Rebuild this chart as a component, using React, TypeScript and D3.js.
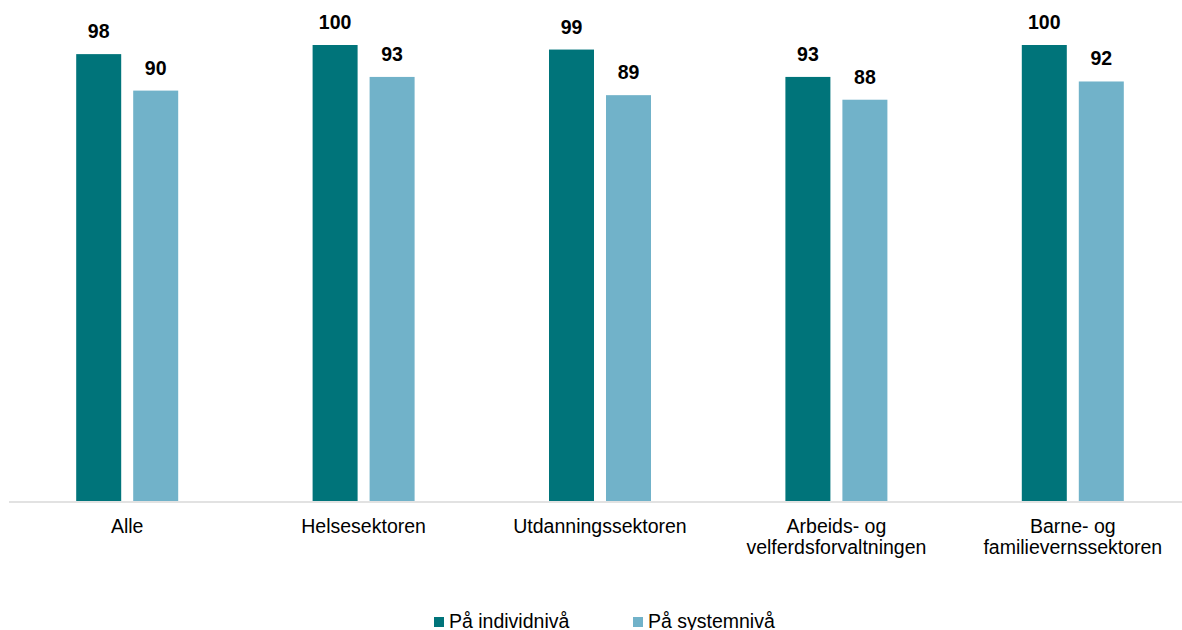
import React from "react";
import * as d3 from "d3";

const categories: string[][] = [
  ["Alle"],
  ["Helsesektoren"],
  ["Utdanningssektoren"],
  ["Arbeids- og", "velferdsforvaltningen"],
  ["Barne- og", "familievernssektoren"],
];
const individValues = [98, 100, 99, 93, 100];
const systemValues = [90, 93, 89, 88, 92];
const seriesNames = ["På individnivå", "På systemnivå"];
const colors = ["#00747A", "#71B2C9"];

const W = 1182;
const H = 630;
const FONT = "'Liberation Sans', Arial, sans-serif";

export default function App() {
  const x0 = 9;
  const step = 236.4;
  const x = d3
    .scaleBand<number>()
    .domain(categories.map((_, i) => i))
    .range([x0, x0 + step * categories.length])
    .paddingInner(0)
    .paddingOuter(0);
  const baseY = 501;
  const y = d3.scaleLinear().domain([0, 100]).range([baseY, baseY - 456]);
  const barW = 45;
  const gap = 12;
  const series = [individValues, systemValues];

  return (
    <svg
      width={W}
      height={H}
      style={{ position: "absolute", left: 0, top: 0, fontFamily: FONT }}
    >
      <rect x={0} y={0} width={W} height={H} fill="#fff" />
      {series.map((vals, s) =>
        vals.map((v, i) => {
          const cx = (x(i) as number) + x.bandwidth() / 2;
          const bx = s === 0 ? cx - gap / 2 - barW : cx + gap / 2;
          return (
            <g key={`${s}-${i}`}>
              <rect
                x={bx}
                y={y(v)}
                width={barW}
                height={baseY - y(v)}
                fill={colors[s]}
              />
              <text
                x={bx + barW / 2}
                y={y(v) - 16}
                textAnchor="middle"
                fontSize={19.5}
                fontWeight="bold"
                fill="#000"
              >
                {v}
              </text>
            </g>
          );
        })
      )}
      <line
        x1={x0}
        x2={W}
        y1={baseY + 1}
        y2={baseY + 1}
        stroke="#d9d9d9"
        strokeWidth={1.5}
      />
      {categories.map((lines, i) => {
        const cx = (x(i) as number) + x.bandwidth() / 2;
        return (
          <text
            key={i}
            x={cx}
            y={533}
            textAnchor="middle"
            fontSize={19.5}
            fill="#000"
          >
            {lines.map((l, j) => (
              <tspan key={j} x={cx} dy={j === 0 ? 0 : 21}>
                {l}
              </tspan>
            ))}
          </text>
        );
      })}
      {seriesNames.map((n, i) => {
        const lx = i === 0 ? 434 : 633;
        return (
          <g key={n}>
            <rect x={lx} y={617} width={10} height={10} fill={colors[i]} />
            <text x={lx + 15} y={628} fontSize={19.5} fill="#000">
              {n}
            </text>
          </g>
        );
      })}
    </svg>
  );
}
